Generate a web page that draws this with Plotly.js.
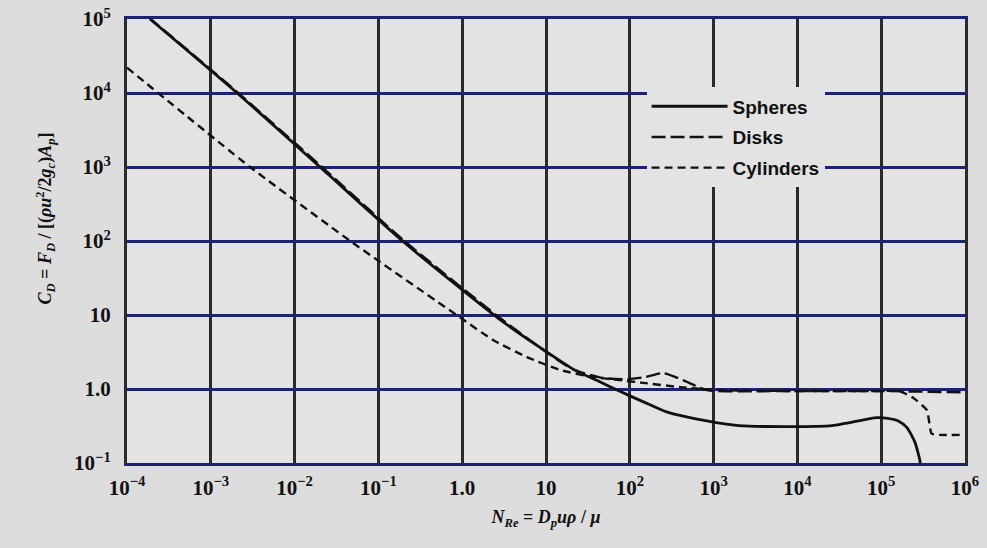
<!DOCTYPE html>
<html>
<head>
<meta charset="utf-8">
<script src="https://cdn.plot.ly/plotly-3.0.1.min.js"></script>
<style>
  html, body { margin: 0; padding: 0; background: #dcdcdc; }
  #chart { width: 987px; height: 548px; }
</style>
</head>
<body>
<div id="chart"></div>
<script>
// Reynolds number (x) and drag coefficient (y)
const sphereRe = [1.88e-4, 2.06e-3, 0.0201, 0.207, 2.7, 8.3, 22, 42, 76, 150, 275, 830, 2000, 8100, 26000, 89000, 1.2e5, 1.6e5, 2.03e5, 2.53e5, 2.9e5, 2.95e5];
const sphereCd = [1e5, 1e4, 1e3, 94, 9.0, 3.7, 1.8, 1.28, 0.93, 0.66, 0.49, 0.37, 0.32, 0.31, 0.32, 0.41, 0.40, 0.37, 0.30, 0.19, 0.107, 0.085];

const diskRe = [1.8e-4, 2.0e-3, 0.02, 0.2, 2.6, 8.0, 21, 48, 93, 152, 249, 431, 830, 8100, 86000, 1e6];
const diskCd = [1.06e5, 1.06e4, 1.06e3, 102, 9.8, 3.8, 1.85, 1.41, 1.36, 1.45, 1.64, 1.32, 0.97, 0.94, 0.94, 0.9];

const cylRe = [1e-4, 2.94e-3, 0.0498, 0.94, 2.33, 5.93, 14.7, 36.4, 76, 144, 400, 1100, 8100, 86000, 1.67e5, 2.4e5, 3.5e5, 4.0e5, 5e5, 1e6];
const cylCd = [2.2e4, 1e3, 94, 9.3, 4.6, 2.70, 1.81, 1.45, 1.32, 1.21, 1.06, 0.97, 0.94, 0.94, 0.93, 0.76, 0.52, 0.25, 0.24, 0.24];

const seriesNames = ["Spheres", "Disks", "Cylinders"];

const xTickVals = [1e-4, 1e-3, 1e-2, 1e-1, 1, 10, 1e2, 1e3, 1e4, 1e5, 1e6];
const xTickText = ["10<sup>−4</sup>", "10<sup>−3</sup>", "10<sup>−2</sup>", "10<sup>−1</sup>", "1.0", "10", "10<sup>2</sup>", "10<sup>3</sup>", "10<sup>4</sup>", "10<sup>5</sup>", "10<sup>6</sup>"];
const yTickVals = [1e-1, 1, 10, 1e2, 1e3, 1e4, 1e5];
const yTickText = ["10<sup>−1</sup>", "1.0", "10", "10<sup>2</sup>", "10<sup>3</sup>", "10<sup>4</sup>", "10<sup>5</sup>"];

const xTitle = "<i>N<sub>Re</sub></i> = <i>D<sub>p</sub>uρ</i> / <i>μ</i>";
const yTitle = "<i>C<sub>D</sub></i> = <i>F<sub>D</sub></i> / [(<i>ρu</i><sup>2</sup>/2<i>g<sub>c</sub></i>)<i>A<sub>p</sub></i>]";

const PLOT_BG = "#e3e3e3";
const PAPER_BG = "#dddddd";
const HGRID = "#1c2470";
const VGRID = "#2a2a2a";
const INK = "#111111";
const SERIF = "Liberation Serif, DejaVu Serif, serif";

const traces = [
  { x: sphereRe, y: sphereCd, name: seriesNames[0], legendgroup: "a", mode: "lines",
    line: { color: INK, width: 2.8, shape: "spline", smoothing: 0.6 } },
  { x: diskRe, y: diskCd, name: seriesNames[1], legendgroup: "b", mode: "lines",
    line: { color: INK, width: 2.4, dash: "14px,5px", shape: "spline", smoothing: 0.6 } },
  { x: cylRe, y: cylCd, name: seriesNames[2], legendgroup: "c", mode: "lines",
    line: { color: INK, width: 2.4, dash: "8px,5px", shape: "spline", smoothing: 0.5 } }
];

const tickFont = { family: SERIF, size: 21, color: INK, weight: "bold" };

const layout = {
  width: 987, height: 548,
  margin: { l: 127, r: 22, t: 19, b: 85 },
  paper_bgcolor: PAPER_BG,
  plot_bgcolor: PLOT_BG,
  showlegend: true,
  legend: {
    x: 0.62, y: 0.846, xanchor: "left", yanchor: "top",
    bgcolor: PLOT_BG, borderwidth: 0,
    font: { family: "Liberation Sans, Arial, sans-serif", size: 19, color: INK, weight: "bold" },
    itemwidth: 76, tracegroupgap: 3, traceorder: "grouped"
  },
  xaxis: {
    type: "log", range: [-4, 6],
    tickmode: "array", tickvals: xTickVals, ticktext: xTickText,
    showgrid: true, gridcolor: VGRID, gridwidth: 2.5,
    showline: true, linecolor: HGRID, linewidth: 3, mirror: true,
    ticks: "outside", ticklen: 4, tickcolor: "rgba(0,0,0,0)",
    tickfont: tickFont, zeroline: false, automargin: false,
    title: { text: xTitle, standoff: 12,
             font: { family: SERIF, size: 18, color: INK, weight: "bold" } }
  },
  yaxis: {
    type: "log", range: [-1, 5],
    tickmode: "array", tickvals: yTickVals, ticktext: yTickText,
    showgrid: true, gridcolor: HGRID, gridwidth: 2.5,
    showline: true, linecolor: VGRID, linewidth: 3, mirror: true,
    ticks: "outside", ticklen: 9, tickcolor: "rgba(0,0,0,0)",
    tickfont: tickFont, zeroline: false, automargin: false
  },
  annotations: [
    { text: yTitle, textangle: -90, xref: "paper", yref: "paper",
      x: -0.097, y: 0.55, xanchor: "center", yanchor: "middle", showarrow: false,
      font: { family: SERIF, size: 18, color: INK, weight: "bold" } }
  ]
};

Plotly.newPlot("chart", traces, layout, { displayModeBar: false, responsive: false });
</script>
</body>
</html>
